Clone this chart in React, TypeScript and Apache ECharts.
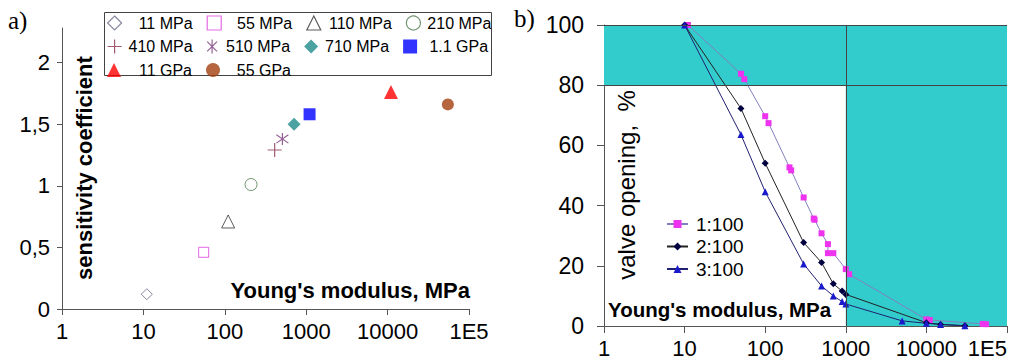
import React, { useEffect, useRef } from "react";
import * as echarts from "echarts";

// ---------- chart a) data ----------
const sensNames = ["11 MPa", "55 MPa", "110 MPa", "210 MPa", "410 MPa", "510 MPa", "710 MPa", "1.1 GPa", "11 GPa", "55 GPa"];
const sensModulus = [11, 55, 110, 210, 410, 510, 710, 1100, 11000, 55000];
const sensCoef = [0.12, 0.46, 0.71, 1.01, 1.29, 1.38, 1.5, 1.58, 1.76, 1.66];
const legendRows = [
  ["11 MPa", "55 MPa", "110 MPa", "210 MPa"],
  ["410 MPa", "510 MPa", "710 MPa", "1.1 GPa"],
  ["11 GPa", "55 GPa"],
];

// ---------- chart b) data ----------
const open1X = [11, 50, 55, 100, 110, 200, 210, 300, 400, 410, 500, 600, 600, 700, 1000, 1100, 10000, 11000, 50000, 55000];
const open1Y = [100, 83.8, 82, 69.7, 67.4, 52.7, 51.7, 42.7, 35.7, 35.3, 30.8, 27.2, 24.2, 24.2, 18.9, 17.2, 2.2, 2.0, 0.7, 0.6];
const open2X = [10, 50, 100, 300, 500, 700, 900, 1000, 10000, 15000, 30000];
const open2Y = [100, 72.3, 54.1, 27.7, 21.1, 14.0, 11.6, 10.5, 1.1, 0.5, 0.1];
const open3X = [10, 50, 100, 300, 500, 700, 900, 1000, 5000, 10000, 15000, 30000];
const open3Y = [100, 63.6, 44.6, 20.6, 13.3, 10.0, 8.1, 7.3, 1.7, 0.9, 0.5, 0.1];
const openNames = ["1:100", "2:100", "3:100"];

// ---------- ticks ----------
const xTickValues = [1, 10, 100, 1000, 10000, 100000];
const xTickLabels = ["1", "10", "100", "1000", "10000", "1E5"];
const ySensTicks = [0, 0.5, 1, 1.5, 2];
const ySensLabels = ["0", "0,5", "1", "1,5", "2"];
const yOpenTicks = [0, 20, 40, 60, 80, 100];

// ---------- styles ----------
const FONT = "'Liberation Sans', Arial, sans-serif";
const PLUS = "path://M5,0V10M0,5H10";
const STAR = "path://M5,0V10M1.5,1.5L8.5,8.5M1.5,8.5L8.5,1.5";
const sensStyles = [
  { symbol: "diamond", size: 11, item: { color: "#fff", borderColor: "#6a6a8c", borderWidth: 1 } },
  { symbol: "rect", size: 10, item: { color: "#fff", borderColor: "#dd44dd", borderWidth: 1 } },
  { symbol: "triangle", size: 13, item: { color: "#fff", borderColor: "#333333", borderWidth: 1 } },
  { symbol: "circle", size: 12, item: { color: "#fff", borderColor: "#4d7a4d", borderWidth: 1 } },
  { symbol: PLUS, size: 14, item: { color: "transparent", borderColor: "#8a3050", borderWidth: 1.2 } },
  { symbol: STAR, size: 12, item: { color: "transparent", borderColor: "#7a3a7a", borderWidth: 1.2 } },
  { symbol: "diamond", size: 13, item: { color: "#1f8a8a" } },
  { symbol: "rect", size: 12, item: { color: "#0000ff" } },
  { symbol: "triangle", size: 14, item: { color: "#ff0000" } },
  { symbol: "circle", size: 12, item: { color: "#a3400f" } },
];
const openStyles = [
  { symbol: "rect", size: 6, line: "#8080c0", item: "#ee33ee" },
  { symbol: "diamond", size: 7, line: "#222222", item: "#000040" },
  { symbol: "triangle", size: 7, line: "#202070", item: "#1a1acc" },
];

const fmtX = (v: number) => {
  const i = xTickValues.findIndex((t) => Math.abs(t - v) / t < 1e-6);
  return i >= 0 ? xTickLabels[i] : "";
};

export default function App() {
  const ref = useRef<HTMLDivElement>(null);
  useEffect(() => {
    if (!ref.current) return;
    const chart = echarts.init(ref.current, undefined, { renderer: "svg" });

    const axisLine = { show: true, lineStyle: { color: "#555", width: 1 } };
    const labelStyle = { color: "#000", fontFamily: FONT, fontSize: 22 };

    const sensSeries = sensNames.map((name, i) => ({
      type: "scatter",
      name,
      xAxisIndex: 0,
      yAxisIndex: 0,
      data: [[sensModulus[i], sensCoef[i]]],
      symbol: sensStyles[i].symbol,
      symbolSize: sensStyles[i].size,
      itemStyle: sensStyles[i].item,
      z: 3,
    }));

    const openData = [
      open1X.map((x, i) => [x, open1Y[i]]),
      open2X.map((x, i) => [x, open2Y[i]]),
      open3X.map((x, i) => [x, open3Y[i]]),
    ];
    const openSeries = openNames.map((name, i) => {
      const s: any = {
        type: "line",
        name,
        xAxisIndex: 1,
        yAxisIndex: 1,
        data: openData[i],
        symbol: openStyles[i].symbol,
        symbolSize: openStyles[i].size,
        showSymbol: true,
        lineStyle: { color: openStyles[i].line, width: 1 },
        itemStyle: { color: openStyles[i].item },
        z: 3,
      };
      if (i === 0) {
        s.markArea = {
          silent: true,
          itemStyle: { color: "#33cccc" },
          data: [
            [{ xAxis: 1, yAxis: 80 }, { xAxis: 100000, yAxis: 100 }],
            [{ xAxis: 1000, yAxis: 0 }, { xAxis: 100000, yAxis: 100 }],
          ],
        };
        s.markLine = {
          silent: true,
          symbol: ["none", "none"],
          label: { show: false },
          lineStyle: { color: "#444", width: 1, type: "solid" },
          data: [{ yAxis: 80 }, { yAxis: 100 }, { xAxis: 1000 }],
        };
      }
      return s;
    });

    const leftLegends = legendRows.map((row, r) => ({
      data: row,
      left: 107,
      top: 15 + r * 23.5,
      orient: "horizontal",
      padding: 0,
      itemWidth: 14,
      itemHeight: 14,
      itemGap: 14,
      selectedMode: false,
      itemStyle: { borderWidth: 1.2 },
      formatter: (n: string) => `{a|${n}}`,
      textStyle: {
        color: "#000",
        fontFamily: FONT,
        fontSize: 16,
        rich: { a: { width: 66, align: "right", fontSize: 16, lineHeight: 18, fontFamily: FONT, color: "#000" } },
      },
    }));

    const option: any = {
      animation: false,
      backgroundColor: "#fff",
      grid: [
        { left: 62, top: 28, width: 407, height: 281, containLabel: false, outerBoundsMode: "none" },
        { left: 604, top: 25, width: 403, height: 301, containLabel: false, outerBoundsMode: "none" },
      ],
      xAxis: [
        {
          type: "log",
          logBase: 10,
          gridIndex: 0,
          min: 1,
          max: 100000,
          axisLine,
          axisTick: { show: true, length: 6, lineStyle: { color: "#555" } },
          minorTick: { show: false },
          splitLine: { show: false },
          axisLabel: { ...labelStyle, margin: 11, formatter: fmtX },
        },
        {
          type: "log",
          logBase: 10,
          gridIndex: 1,
          min: 1,
          max: 100000,
          axisLine,
          axisTick: { show: true, length: 7, lineStyle: { color: "#555" } },
          minorTick: { show: false },
          splitLine: { show: false },
          axisLabel: { ...labelStyle, fontSize: 22, lineHeight: 20, margin: 12, formatter: fmtX, alignMaxLabel: "right" },
        },
      ],
      yAxis: [
        {
          type: "value",
          gridIndex: 0,
          min: 0,
          max: 2.28,
          interval: 0.5,
          axisLine,
          axisTick: { show: true, length: 5, lineStyle: { color: "#555" }, customValues: ySensTicks },
          splitLine: { show: false },
          axisLabel: {
            ...labelStyle,
            margin: 12,
            customValues: ySensTicks,
            formatter: (v: number) => {
              const i = ySensTicks.findIndex((t) => Math.abs(t - v) < 1e-6);
              return i >= 0 ? ySensLabels[i] : "";
            },
          },
        },
        {
          type: "value",
          gridIndex: 1,
          min: 0,
          max: 100,
          interval: 20,
          axisLine,
          axisTick: { show: true, length: 7, lineStyle: { color: "#555" }, customValues: yOpenTicks },
          splitLine: { show: false },
          axisLabel: { ...labelStyle, fontSize: 23, margin: 20, customValues: yOpenTicks },
        },
      ],
      legend: [
        ...leftLegends,
        {
          data: openNames,
          orient: "vertical",
          left: 666,
          top: 214,
          padding: 0,
          itemWidth: 21,
          itemHeight: 10,
          itemGap: 2.5,
          selectedMode: false,
          textStyle: { color: "#000", fontFamily: FONT, fontSize: 19, lineHeight: 20, padding: [0, 0, 0, 3] },
        },
      ],
      graphic: [
        {
          type: "rect",
          z: 0,
          shape: { x: 104.5, y: 12.5, width: 387, height: 63 },
          style: { fill: "#fff", stroke: "#444", lineWidth: 1 },
        },
        {
          type: "text",
          x: 8,
          y: 20,
          style: { text: "a)", fontFamily: "'Liberation Serif', serif", fontSize: 25, fill: "#000", align: "left", verticalAlign: "middle" },
        },
        {
          type: "text",
          x: 514,
          y: 18,
          style: { text: "b)", fontFamily: "'Liberation Serif', serif", fontSize: 25, fill: "#000", align: "left", verticalAlign: "middle" },
        },
        {
          type: "text",
          x: 84,
          y: 168,
          rotation: Math.PI / 2,
          style: { text: "sensitivity coefficient", fontFamily: FONT, fontWeight: "bold", fontSize: 22, fill: "#000", align: "center", verticalAlign: "middle" },
        },
        {
          type: "text",
          x: 470,
          y: 290,
          style: { text: "Young's modulus, MPa", fontFamily: FONT, fontWeight: "bold", fontSize: 22, fill: "#000", align: "right", verticalAlign: "middle" },
        },
        {
          type: "text",
          x: 626,
          y: 185,
          rotation: Math.PI / 2,
          style: { text: "valve opening,  %", fontFamily: FONT, fontSize: 24, fill: "#000", align: "center", verticalAlign: "middle" },
        },
        {
          type: "text",
          x: 608,
          y: 309,
          z: 10,
          style: { text: "Young's modulus, MPa", fontFamily: FONT, fontWeight: "bold", fontSize: 20.5, fill: "#000", align: "left", verticalAlign: "middle" },
        },
      ],
      series: [...sensSeries, ...openSeries],
    };
    chart.setOption(option);
    return () => chart.dispose();
  }, []);
  return <div ref={ref} style={{ position: "fixed", left: 0, top: 0, width: 1013, height: 360 }} />;
}
